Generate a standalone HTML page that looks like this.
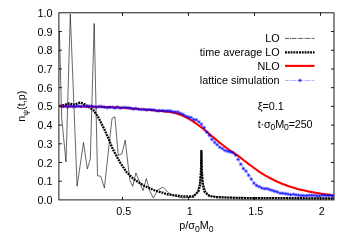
<!DOCTYPE html>
<html><head><meta charset="utf-8"><title>plot</title>
<style>
html,body{margin:0;padding:0;background:#fff;}
svg{display:block;}
text{font-family:"Liberation Sans",sans-serif;font-size:10.8px;fill:#000;}
.sub{font-size:8.6px;}.psi{font-size:8px;}.tt{letter-spacing:-0.15px;}
</style></head><body>
<svg style="will-change:transform" width="350" height="245" viewBox="0 0 350 245">
<rect width="350" height="245" fill="#fff"/>
<g fill="none">
<polyline points="59.4,32.0 61.7,118.0 66.0,162.0 70.3,14.0 77.1,186.2 83.5,142.5 87.3,169.0 90.3,159.0 94.2,23.5 97.5,175.8 100.7,176.2 104.4,188.0 112.0,118.3 114.9,116.8 118.3,155.4 122.0,153.7 125.2,140.0 129.9,180.6 132.7,186.3 135.9,172.9 143.0,190.6 146.3,178.6 150.0,191.4 153.4,198.0 157.7,190.0 162.9,187.1 168.6,192.9 174.3,195.7 182.9,198.0 191.4,197.1 197.1,192.9 200.4,180.0 201.4,150.0 202.4,180.0 205.7,191.4 210.0,196.3 225.0,197.3 260.0,197.8 334.0,198.3" stroke="#000" stroke-width="0.6" stroke-linejoin="miter"/>
<polyline points="59.6,105.9 64.0,105.2 67.4,103.8 70.3,103.4 73.1,104.8 75.4,104.2 80.0,102.6 83.4,103.5 86.9,105.8 90.3,108.0 93.7,110.5 98.1,117.0 104.0,128.6 108.5,138.6 112.7,149.0 119.8,162.0 126.4,172.0 133.6,179.0 143.6,185.5 153.6,190.0 168.6,194.6 183.0,196.4 193.5,196.5 195.5,194.3 198.4,191.4 199.9,185.7 201.0,170.0 201.4,151.0 201.8,170.0 202.9,185.7 204.4,191.4 207.3,194.3 209.5,196.0 217.0,197.2 240.0,198.0 334.0,198.4" stroke="#000" stroke-width="2.3" stroke-dasharray="1.9 0.9" stroke-linejoin="round"/>
<polyline points="59.4,106.4 61.4,106.4 63.4,106.4 65.4,106.4 67.4,106.4 69.4,106.4 71.4,106.4 73.4,106.4 75.4,106.5 77.4,106.5 79.4,106.5 81.4,106.5 83.4,106.5 85.4,106.5 87.4,106.6 89.4,106.6 91.4,106.6 93.4,106.7 95.4,106.7 97.4,106.8 99.4,106.8 101.4,106.9 103.4,106.9 105.4,107.0 107.4,107.0 109.4,107.1 111.4,107.2 113.4,107.3 115.4,107.4 117.4,107.5 119.4,107.6 121.4,107.7 123.4,107.8 125.4,108.0 127.4,108.1 129.4,108.3 131.4,108.5 133.4,108.6 135.4,108.8 137.4,109.0 139.4,109.2 141.4,109.3 143.4,109.5 145.4,109.6 147.4,109.8 149.4,110.0 151.4,110.1 153.4,110.3 155.4,110.5 157.4,110.7 159.4,110.9 161.4,111.0 163.4,111.2 165.4,111.5 167.4,111.7 169.4,112.0 171.4,112.3 173.4,112.7 175.4,113.1 177.4,113.7 179.4,114.4 181.4,115.1 183.4,116.0 185.4,116.9 187.4,118.0 189.4,119.2 191.4,120.4 193.4,121.7 195.4,123.0 197.4,124.5 199.4,125.9 201.4,127.4 203.4,129.0 205.4,130.6 207.4,132.3 209.4,134.0 211.4,135.7 213.4,137.4 215.4,139.1 217.4,140.8 219.4,142.4 221.4,144.0 223.4,145.5 225.4,147.1 227.4,148.5 229.4,150.0 231.4,151.4 233.4,152.7 235.4,154.1 237.4,155.4 239.4,156.9 241.4,158.4 243.4,160.0 245.4,161.5 247.4,163.1 249.4,164.6 251.4,166.0 253.4,167.5 255.4,169.0 257.4,170.4 259.4,171.8 261.4,173.1 263.4,174.4 265.4,175.6 267.4,176.7 269.4,177.8 271.4,178.8 273.4,179.8 275.4,180.8 277.4,181.7 279.4,182.6 281.4,183.5 283.4,184.3 285.4,185.0 287.4,185.8 289.4,186.4 291.4,187.1 293.4,187.7 295.4,188.3 297.4,188.9 299.4,189.4 301.4,189.9 303.4,190.3 305.4,190.8 307.4,191.2 309.4,191.6 311.4,192.0 313.4,192.4 315.4,192.7 317.4,193.1 319.4,193.4 321.4,193.7 323.4,194.0 325.4,194.3 327.4,194.6 329.4,194.9 331.4,195.2 333.4,195.5" stroke="#f00" stroke-width="2.1" stroke-linecap="butt" stroke-linejoin="round"/>
<polyline points="62.6,106.5 65.2,106.2 67.8,106.9 70.5,106.1 73.1,106.7 75.7,106.5 78.3,106.0 80.9,106.6 83.6,106.0 86.2,106.6 88.8,106.1 91.4,106.2 94.0,106.7 96.7,107.3 99.3,106.4 101.9,106.6 104.5,107.2 107.1,107.8 109.8,107.3 112.4,107.2 115.0,108.1 117.6,106.9 120.2,108.2 122.9,107.6 125.5,107.5 128.1,107.7 130.7,108.2 133.3,109.1 136.0,108.4 138.6,109.2 141.2,109.5 143.8,109.4 146.4,109.9 149.1,109.5 151.7,109.7 154.3,110.1 156.9,110.9 159.5,110.6 162.2,110.6 164.8,111.0 167.4,110.9 170.0,110.8 172.6,111.7 175.3,112.0 177.9,112.0 180.5,113.4 183.1,114.4 185.7,116.1 188.4,117.1 191.0,117.5 193.6,119.6 196.2,119.8 198.8,121.9 201.5,124.2 204.1,127.6 206.7,132.1 209.3,135.5 211.9,139.4 214.6,142.4 217.2,144.7 219.8,147.2 222.4,148.6 225.0,150.5 227.7,151.3 230.3,152.0 232.9,152.6 235.5,155.0 238.1,159.5 240.8,164.2 243.4,168.6 246.0,171.1 248.6,175.3 251.2,179.1 253.9,183.1 256.5,185.4 259.1,186.7 261.7,187.9 264.3,188.8 267.0,188.6 269.6,189.6 272.2,190.4 274.8,191.3 277.4,192.0 280.1,193.2 282.7,193.2 285.3,193.7 287.9,194.1 290.5,194.8 293.2,194.4 295.8,194.8 298.4,195.1 301.0,195.5 303.6,195.6 306.3,195.7 308.9,195.3 311.5,195.4 314.1,195.4 316.7,195.9 319.4,195.9 322.0,195.3 324.6,195.4 327.2,195.5 329.8,195.5 332.5,195.8" stroke="#00f" stroke-width="0.4" stroke-opacity="0.6"/>
<path d="M60.7,106.5H64.5M62.6,104.6V108.4M61.2,105.1L64.0,107.8M61.2,107.8L64.0,105.1M63.3,106.2H67.1M65.2,104.3V108.1M63.9,104.8L66.6,107.6M63.9,107.6L66.6,104.8M65.9,106.9H69.7M67.8,105.0V108.8M66.5,105.5L69.2,108.3M66.5,108.3L69.2,105.5M68.6,106.1H72.4M70.5,104.2V108.0M69.1,104.7L71.8,107.4M69.1,107.4L71.8,104.7M71.2,106.7H75.0M73.1,104.8V108.6M71.7,105.3L74.4,108.1M71.7,108.1L74.4,105.3M73.8,106.5H77.6M75.7,104.6V108.4M74.3,105.1L77.1,107.8M74.3,107.8L77.1,105.1M76.4,106.0H80.2M78.3,104.1V107.9M77.0,104.6L79.7,107.4M77.0,107.4L79.7,104.6M79.0,106.6H82.8M80.9,104.7V108.5M79.6,105.3L82.3,108.0M79.6,108.0L82.3,105.3M81.7,106.0H85.5M83.6,104.1V107.9M82.2,104.6L84.9,107.4M82.2,107.4L84.9,104.6M84.3,106.6H88.1M86.2,104.7V108.5M84.8,105.2L87.5,107.9M84.8,107.9L87.5,105.2M86.9,106.1H90.7M88.8,104.2V108.0M87.4,104.7L90.2,107.4M87.4,107.4L90.2,104.7M89.5,106.2H93.3M91.4,104.3V108.1M90.1,104.8L92.8,107.5M90.1,107.5L92.8,104.8M92.1,106.7H95.9M94.0,104.8V108.6M92.7,105.3L95.4,108.0M92.7,108.0L95.4,105.3M94.8,107.3H98.6M96.7,105.4V109.2M95.3,105.9L98.0,108.7M95.3,108.7L98.0,105.9M97.4,106.4H101.2M99.3,104.5V108.3M97.9,105.0L100.6,107.7M97.9,107.7L100.6,105.0M100.0,106.6H103.8M101.9,104.7V108.5M100.5,105.2L103.3,107.9M100.5,107.9L103.3,105.2M102.6,107.2H106.4M104.5,105.3V109.1M103.2,105.9L105.9,108.6M103.2,108.6L105.9,105.9M105.2,107.8H109.0M107.1,105.9V109.7M105.8,106.4L108.5,109.1M105.8,109.1L108.5,106.4M107.9,107.3H111.7M109.8,105.4V109.2M108.4,106.0L111.1,108.7M108.4,108.7L111.1,106.0M110.5,107.2H114.3M112.4,105.3V109.1M111.0,105.8L113.7,108.6M111.0,108.6L113.7,105.8M113.1,108.1H116.9M115.0,106.2V110.0M113.6,106.7L116.4,109.5M113.6,109.5L116.4,106.7M115.7,106.9H119.5M117.6,105.0V108.8M116.3,105.6L119.0,108.3M116.3,108.3L119.0,105.6M118.3,108.2H122.1M120.2,106.3V110.1M118.9,106.8L121.6,109.6M118.9,109.6L121.6,106.8M121.0,107.6H124.8M122.9,105.7V109.5M121.5,106.2L124.2,108.9M121.5,108.9L124.2,106.2M123.6,107.5H127.4M125.5,105.6V109.4M124.1,106.2L126.8,108.9M124.1,108.9L126.8,106.2M126.2,107.7H130.0M128.1,105.8V109.6M126.7,106.3L129.5,109.1M126.7,109.1L129.5,106.3M128.8,108.2H132.6M130.7,106.3V110.1M129.4,106.8L132.1,109.5M129.4,109.5L132.1,106.8M131.4,109.1H135.2M133.3,107.2V111.0M132.0,107.7L134.7,110.5M132.0,110.5L134.7,107.7M134.1,108.4H137.9M136.0,106.5V110.3M134.6,107.0L137.3,109.8M134.6,109.8L137.3,107.0M136.7,109.2H140.5M138.6,107.3V111.1M137.2,107.8L139.9,110.6M137.2,110.6L139.9,107.8M139.3,109.5H143.1M141.2,107.6V111.4M139.8,108.1L142.6,110.9M139.8,110.9L142.6,108.1M141.9,109.4H145.7M143.8,107.5V111.3M142.5,108.0L145.2,110.7M142.5,110.7L145.2,108.0M144.5,109.9H148.3M146.4,108.0V111.8M145.1,108.5L147.8,111.2M145.1,111.2L147.8,108.5M147.2,109.5H151.0M149.1,107.6V111.4M147.7,108.1L150.4,110.8M147.7,110.8L150.4,108.1M149.8,109.7H153.6M151.7,107.8V111.6M150.3,108.3L153.0,111.1M150.3,111.1L153.0,108.3M152.4,110.1H156.2M154.3,108.2V112.0M152.9,108.7L155.7,111.5M152.9,111.5L155.7,108.7M155.0,110.9H158.8M156.9,109.0V112.8M155.6,109.5L158.3,112.3M155.6,112.3L158.3,109.5M157.6,110.6H161.4M159.5,108.7V112.5M158.2,109.3L160.9,112.0M158.2,112.0L160.9,109.3" stroke="#00f" stroke-width="0.5"/><path d="M160.3,110.6H164.1M162.2,108.7V112.5M160.8,109.2L163.5,111.9M160.8,111.9L163.5,109.2M162.9,111.0H166.7M164.8,109.1V112.9M163.4,109.6L166.1,112.4M163.4,112.4L166.1,109.6M165.5,110.9H169.3M167.4,109.0V112.8M166.0,109.5L168.8,112.3M166.0,112.3L168.8,109.5M168.1,110.8H171.9M170.0,108.9V112.7M168.7,109.4L171.4,112.1M168.7,112.1L171.4,109.4M170.7,111.7H174.5M172.6,109.8V113.6M171.3,110.4L174.0,113.1M171.3,113.1L174.0,110.4M173.4,112.0H177.2M175.3,110.1V113.9M173.9,110.7L176.6,113.4M173.9,113.4L176.6,110.7M176.0,112.0H179.8M177.9,110.1V113.9M176.5,110.7L179.2,113.4M176.5,113.4L179.2,110.7M178.6,113.4H182.4M180.5,111.5V115.3M179.1,112.0L181.9,114.8M179.1,114.8L181.9,112.0M181.2,114.4H185.0M183.1,112.5V116.3M181.8,113.0L184.5,115.7M181.8,115.7L184.5,113.0M183.8,116.1H187.6M185.7,114.2V118.0M184.4,114.7L187.1,117.5M184.4,117.5L187.1,114.7M186.5,117.1H190.3M188.4,115.2V119.0M187.0,115.7L189.7,118.5M187.0,118.5L189.7,115.7M189.1,117.5H192.9M191.0,115.6V119.4M189.6,116.1L192.3,118.9M189.6,118.9L192.3,116.1M191.7,119.6H195.5M193.6,117.7V121.5M192.2,118.2L195.0,120.9M192.2,120.9L195.0,118.2M194.3,119.8H198.1M196.2,117.9V121.7M194.9,118.4L197.6,121.1M194.9,121.1L197.6,118.4M196.9,121.9H200.7M198.8,120.0V123.8M197.5,120.5L200.2,123.2M197.5,123.2L200.2,120.5M199.6,124.2H203.4M201.5,122.3V126.1M200.1,122.8L202.8,125.5M200.1,125.5L202.8,122.8M202.2,127.6H206.0M204.1,125.7V129.5M202.7,126.2L205.4,128.9M202.7,128.9L205.4,126.2M204.8,132.1H208.6M206.7,130.2V134.0M205.3,130.7L208.1,133.5M205.3,133.5L208.1,130.7M207.4,135.5H211.2M209.3,133.6V137.4M208.0,134.1L210.7,136.8M208.0,136.8L210.7,134.1M210.0,139.4H213.8M211.9,137.5V141.3M210.6,138.0L213.3,140.8M210.6,140.8L213.3,138.0M212.7,142.4H216.5M214.6,140.5V144.3M213.2,141.0L215.9,143.7M213.2,143.7L215.9,141.0M215.3,144.7H219.1M217.2,142.8V146.6M215.8,143.3L218.5,146.0M215.8,146.0L218.5,143.3M217.9,147.2H221.7M219.8,145.3V149.1M218.4,145.8L221.2,148.6M218.4,148.6L221.2,145.8M220.5,148.6H224.3M222.4,146.7V150.5M221.1,147.2L223.8,150.0M221.1,150.0L223.8,147.2M223.1,150.5H226.9M225.0,148.6V152.4M223.7,149.1L226.4,151.8M223.7,151.8L226.4,149.1M225.8,151.3H229.6M227.7,149.4V153.2M226.3,150.0L229.0,152.7M226.3,152.7L229.0,150.0M228.4,152.0H232.2M230.3,150.1V153.9M228.9,150.6L231.6,153.3M228.9,153.3L231.6,150.6M231.0,152.6H234.8M232.9,150.7V154.5M231.5,151.2L234.3,153.9M231.5,153.9L234.3,151.2M233.6,155.0H237.4M235.5,153.1V156.9M234.2,153.6L236.9,156.3M234.2,156.3L236.9,153.6M236.2,159.5H240.0M238.1,157.6V161.4M236.8,158.1L239.5,160.8M236.8,160.8L239.5,158.1M238.9,164.2H242.7M240.8,162.3V166.1M239.4,162.8L242.1,165.6M239.4,165.6L242.1,162.8M241.5,168.6H245.3M243.4,166.7V170.5M242.0,167.2L244.7,170.0M242.0,170.0L244.7,167.2M244.1,171.1H247.9M246.0,169.2V173.0M244.6,169.7L247.4,172.5M244.6,172.5L247.4,169.7M246.7,175.3H250.5M248.6,173.4V177.2M247.3,173.9L250.0,176.6M247.3,176.6L250.0,173.9M249.3,179.1H253.1M251.2,177.2V181.0M249.9,177.8L252.6,180.5M249.9,180.5L252.6,177.8M252.0,183.1H255.8M253.9,181.2V185.0M252.5,181.7L255.2,184.5M252.5,184.5L255.2,181.7M254.6,185.4H258.4M256.5,183.5V187.3M255.1,184.1L257.8,186.8M255.1,186.8L257.8,184.1M257.2,186.7H261.0M259.1,184.8V188.6M257.7,185.3L260.5,188.0M257.7,188.0L260.5,185.3M259.8,187.9H263.6M261.7,186.0V189.8M260.4,186.6L263.1,189.3M260.4,189.3L263.1,186.6M262.4,188.8H266.2M264.3,186.9V190.7M263.0,187.4L265.7,190.2M263.0,190.2L265.7,187.4M265.1,188.6H268.9M267.0,186.7V190.5M265.6,187.3L268.3,190.0M265.6,190.0L268.3,187.3M267.7,189.6H271.5M269.6,187.7V191.5M268.2,188.2L270.9,190.9M268.2,190.9L270.9,188.2M270.3,190.4H274.1M272.2,188.5V192.3M270.8,189.0L273.6,191.8M270.8,191.8L273.6,189.0M272.9,191.3H276.7M274.8,189.4V193.2M273.5,189.9L276.2,192.7M273.5,192.7L276.2,189.9M275.5,192.0H279.3M277.4,190.1V193.9M276.1,190.6L278.8,193.3M276.1,193.3L278.8,190.6M278.2,193.2H282.0M280.1,191.3V195.1M278.7,191.9L281.4,194.6M278.7,194.6L281.4,191.9M280.8,193.2H284.6M282.7,191.3V195.1M281.3,191.9L284.0,194.6M281.3,194.6L284.0,191.9M283.4,193.7H287.2M285.3,191.8V195.6M283.9,192.3L286.7,195.1M283.9,195.1L286.7,192.3M286.0,194.1H289.8M287.9,192.2V196.0M286.6,192.8L289.3,195.5M286.6,195.5L289.3,192.8M288.6,194.8H292.4M290.5,192.9V196.7M289.2,193.4L291.9,196.1M289.2,196.1L291.9,193.4M291.3,194.4H295.1M293.2,192.5V196.3M291.8,193.0L294.5,195.7M291.8,195.7L294.5,193.0M293.9,194.8H297.7M295.8,192.9V196.7M294.4,193.5L297.1,196.2M294.4,196.2L297.1,193.5M296.5,195.1H300.3M298.4,193.2V197.0M297.0,193.7L299.8,196.5M297.0,196.5L299.8,193.7M299.1,195.5H302.9M301.0,193.6V197.4M299.7,194.1L302.4,196.9M299.7,196.9L302.4,194.1M301.7,195.6H305.5M303.6,193.7V197.5M302.3,194.2L305.0,196.9M302.3,196.9L305.0,194.2M304.4,195.7H308.2M306.3,193.8V197.6M304.9,194.3L307.6,197.1M304.9,197.1L307.6,194.3M307.0,195.3H310.8M308.9,193.4V197.2M307.5,193.9L310.2,196.7M307.5,196.7L310.2,193.9M309.6,195.4H313.4M311.5,193.5V197.3M310.1,194.1L312.9,196.8M310.1,196.8L312.9,194.1M312.2,195.4H316.0M314.1,193.5V197.3M312.8,194.1L315.5,196.8M312.8,196.8L315.5,194.1M314.8,195.9H318.6M316.7,194.0V197.8M315.4,194.5L318.1,197.2M315.4,197.2L318.1,194.5M317.5,195.9H321.3M319.4,194.0V197.8M318.0,194.6L320.7,197.3M318.0,197.3L320.7,194.6M320.1,195.3H323.9M322.0,193.4V197.2M320.6,194.0L323.3,196.7M320.6,196.7L323.3,194.0M322.7,195.4H326.5M324.6,193.5V197.3M323.2,194.0L326.0,196.8M323.2,196.8L326.0,194.0M325.3,195.5H329.1M327.2,193.6V197.4M325.9,194.1L328.6,196.9M325.9,196.9L328.6,194.1M327.9,195.5H331.7M329.8,193.6V197.4M328.5,194.2L331.2,196.9M328.5,196.9L331.2,194.2M330.6,195.8H334.4M332.5,193.9V197.7M331.1,194.4L333.8,197.1M331.1,197.1L333.8,194.4" stroke="#00f" stroke-width="0.55"/>
<rect x="58.9" y="12.8" width="275.1" height="187.1" stroke="#000" stroke-width="0.9"/>
<path d="M122.5,199.95v-3.0M122.5,12.8v3.0M188.5,199.95v-3.0M188.5,12.8v3.0M254.5,199.95v-3.0M254.5,12.8v3.0M320.5,199.95v-3.0M320.5,12.8v3.0M58.9,181.23h3.0M334.0,181.23h-3.0M58.9,162.52h3.0M334.0,162.52h-3.0M58.9,143.81h3.0M334.0,143.81h-3.0M58.9,125.09h3.0M334.0,125.09h-3.0M58.9,106.38h3.0M334.0,106.38h-3.0M58.9,87.66h3.0M334.0,87.66h-3.0M58.9,68.95h3.0M334.0,68.95h-3.0M58.9,50.23h3.0M334.0,50.23h-3.0M58.9,31.52h3.0M334.0,31.52h-3.0" stroke="#000" stroke-width="0.9"/>
<!-- legend -->
<path d="M285,38.45H314.5" stroke="#000" stroke-width="0.65" stroke-dasharray="4.2 0.8 1 0.8"/>
<path d="M285,52.3H314.5" stroke="#000" stroke-width="2.3" stroke-dasharray="1.9 0.9"/>
<path d="M285,65.9H314.5" stroke="#f00" stroke-width="2.1"/>
<path d="M285,80.45H314.5" stroke="#00f" stroke-width="0.55" stroke-opacity="0.6" stroke-dasharray="4.2 0.8 1 0.8"/>
<path d="M298.1,80.4H301.9M300.0,78.5V82.3M298.6,79.0L301.4,81.8M298.6,81.8L301.4,79.0" stroke="#00f" stroke-width="0.55"/>
</g>
<text x="52.6" y="203.9" text-anchor="end">0.0</text><text x="52.6" y="185.2" text-anchor="end">0.1</text><text x="52.6" y="166.5" text-anchor="end">0.2</text><text x="52.6" y="147.8" text-anchor="end">0.3</text><text x="52.6" y="129.1" text-anchor="end">0.4</text><text x="52.6" y="110.4" text-anchor="end">0.5</text><text x="52.6" y="91.7" text-anchor="end">0.6</text><text x="52.6" y="72.9" text-anchor="end">0.7</text><text x="52.6" y="54.2" text-anchor="end">0.8</text><text x="52.6" y="35.5" text-anchor="end">0.9</text><text x="52.6" y="16.8" text-anchor="end">1.0</text>
<text x="123.7" y="214.5" text-anchor="middle">0.5</text><text x="189.7" y="214.5" text-anchor="middle">1</text><text x="255.7" y="214.5" text-anchor="middle">1.5</text><text x="321.7" y="214.5" text-anchor="middle">2</text>
<text x="279.6" y="41.9" text-anchor="end">LO</text>
<text x="279.6" y="56.0" text-anchor="end">time average LO</text>
<text x="279.6" y="69.8" text-anchor="end">NLO</text>
<text x="279.6" y="83.7" text-anchor="end">lattice simulation</text>
<text x="257.7" y="110.2">ξ=0.1</text>
<text class="tt" x="257.7" y="127.8">t·σ<tspan class="sub" dy="2.6">0</tspan><tspan dy="-2.6">M</tspan><tspan class="sub" dy="2.6">0</tspan><tspan dy="-2.6">=250</tspan></text>
<text x="196.4" y="229.4" text-anchor="middle">p/σ<tspan class="sub" dy="2.6">0</tspan><tspan dy="-2.6">M</tspan><tspan class="sub" dy="2.6">0</tspan></text>
<text transform="translate(24.9,106.2) rotate(-90)" text-anchor="middle">n<tspan class="psi" dy="2.6">ψ</tspan><tspan dy="-2.6">(t,p)</tspan></text>
</svg>
</body></html>
